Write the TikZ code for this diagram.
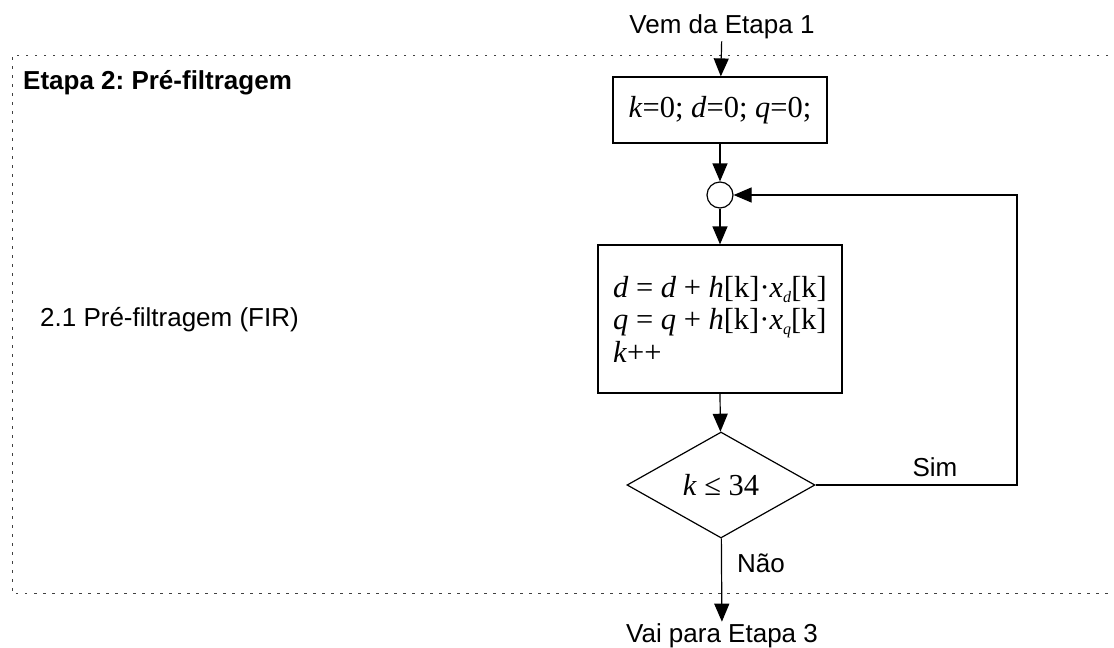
\documentclass[tikz,border=0pt]{standalone}
\usepackage{fontspec}
\setmainfont{Liberation Sans}
\newfontfamily\serifa{Liberation Serif}
\usetikzlibrary{arrows.meta,shapes.geometric}
\frenchspacing

% indice pequeno (x_d, x_q)
\newcommand{\indice}[1]{\raisebox{-5pt}{\fontsize{16}{16}\selectfont\textit{#1}}}

\tikzset{
  caixa/.style={draw, line width=1.2pt, inner sep=0pt},
  seta/.style={line width=1.2pt, -{Triangle[length=18pt,width=15pt]}},
  linha/.style={line width=1.2pt},
  texto/.style={font=\fontsize{26}{30}\selectfont, inner sep=2pt},
  formula/.style={font=\serifa\fontsize{30.5}{32.5}\selectfont},
  pontilhado/.style={line width=1pt, black!75, dash pattern=on 2.5pt off 6.5pt},
}

\begin{document}
\begin{tikzpicture}[x=1pt,y=-1pt]
    \useasboundingbox (0,0) rectangle (1114,648);

    % Quadro da etapa
    \draw[pontilhado] (1108,55) -- (12,55) -- (12,593) -- (1108,593);
    \node[texto, anchor=west, font=\fontsize{26}{30}\selectfont\bfseries] (titulo) at (21,83) {Etapa 2: Pré-filtragem};
    \node[texto, anchor=west] (fir) at (38,320) {2.1 Pré-filtragem (FIR)};

    % Blocos
    \node[texto] (vem) at (722,27) {Vem da Etapa 1};
    \node[caixa, formula, minimum width=214pt, minimum height=66pt] (inicio) at (720,110)
        {\textit{k}=0; \textit{d}=0; \textit{q}=0;};
    \node[draw, circle, line width=1.2pt, minimum size=26pt, inner sep=0pt] (junta) at (720,195) {};
    \node[caixa, formula, minimum width=244pt, minimum height=148pt, align=left] (filtro) at (720,319)
        {\textit{d} = \textit{d} + \textit{h}[k]·\textit{x}\indice{d}[k]\\
         \textit{q} = \textit{q} + \textit{h}[k]·\textit{x}\indice{q}[k]\\
         \textit{k}++};
    \node[caixa, formula, diamond, minimum width=188pt, minimum height=106pt] (teste) at (721,485)
        {\textit{k} ≤ 34};
    \node[texto] (vai) at (722,636) {Vai para Etapa 3};

    % Setas
    \draw[seta] (vem) -- (inicio);
    \draw[seta] (inicio) -- (junta);
    \draw[seta] (junta) -- (filtro.north -| junta);
    \draw[seta] (filtro.south -| junta) -- (teste);
    \coordinate (volta) at (1017,485);
    \draw[seta] (teste.east) -- (volta) |- (junta.east);
    \draw[seta] (teste) -- (vai);

    % Rotulos
    \node[texto] (sim) at (935,467) {Sim};
    \node[texto] (nao) at (761,563) {Não};
\end{tikzpicture}
\end{document}
